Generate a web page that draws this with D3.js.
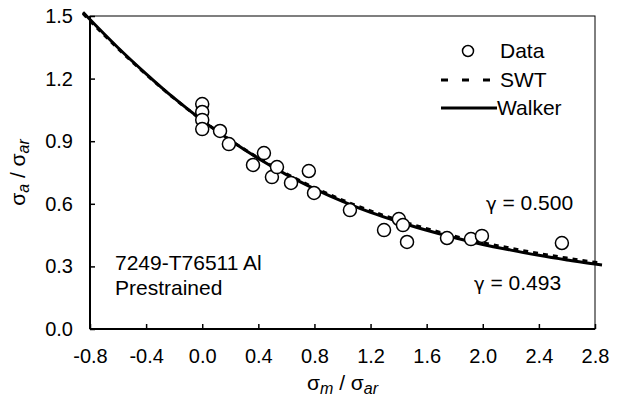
<!DOCTYPE html>
<html>
<head>
<meta charset="utf-8">
<script src="https://cdn.jsdelivr.net/npm/d3@7"></script>
<style>
  body { margin: 0; background: #fff; }
  svg text { font-family: "Liberation Sans", Arial, sans-serif; fill: #000; }
</style>
</head>
<body>
<svg id="chart" width="620" height="404"></svg>
<script>
// measured data (sigma_m / sigma_ar , sigma_a / sigma_ar)
var dataM = [0, 0, 0, 0, 0.127, 0.19, 0.362, 0.44, 0.497, 0.533, 0.633, 0.76, 0.797,
             1.053, 1.296, 1.402, 1.431, 1.46, 1.745, 1.916, 1.994, 2.564];
var dataA = [1.078, 1.040, 1.002, 0.958, 0.949, 0.886, 0.786, 0.843, 0.728, 0.776, 0.70, 0.757, 0.652,
             0.570, 0.474, 0.527, 0.498, 0.417, 0.436, 0.431, 0.446, 0.412];

// model curves
var curveM = [-0.85, -0.8, -0.6, -0.4, -0.2, 0, 0.2, 0.4, 0.6, 0.8, 1.0, 1.2, 1.4, 1.6, 1.8, 2.0, 2.2, 2.4, 2.6, 2.8, 2.85];
var swtA    = [1.512, 1.477, 1.344, 1.220, 1.105, 1.000, 0.905, 0.820, 0.744, 0.677, 0.618, 0.566, 0.521, 0.481, 0.445, 0.414, 0.387, 0.362, 0.340, 0.320, 0.316];
var walkerA = [1.518, 1.483, 1.348, 1.223, 1.106, 1.000, 0.904, 0.817, 0.740, 0.672, 0.612, 0.559, 0.514, 0.473, 0.437, 0.405, 0.378, 0.353, 0.331, 0.311, 0.307];

var xTicks = [-0.8, -0.4, 0.0, 0.4, 0.8, 1.2, 1.6, 2.0, 2.4, 2.8];
var yTicks = [0.0, 0.3, 0.6, 0.9, 1.2, 1.5];

var svg = d3.select("#chart");
var margin = {left: 90, right: 25, top: 16, bottom: 75};
var width = 620 - margin.left - margin.right,
    height = 404 - margin.top - margin.bottom;

var x = d3.scaleLinear().domain([-0.8, 2.8]).range([0, width]);
var y = d3.scaleLinear().domain([0, 1.5]).range([height, 0]);

// plain hyphen for negatives, like the original
var fmt = function(d) { return d3.format(".1f")(d).replace("\u2212", "-"); };

var g = svg.append("g").attr("transform", "translate(" + margin.left + "," + margin.top + ")");

// frame (top / right thin)
g.append("rect")
    .attr("x", 0).attr("y", 0)
    .attr("width", width).attr("height", height)
    .attr("fill", "none").attr("stroke", "#000").attr("stroke-width", 1);

// axes with inward ticks
var xAxis = g.append("g")
    .attr("transform", "translate(0," + height + ")")
    .call(d3.axisBottom(x).tickValues(xTicks).tickSize(-5).tickPadding(20).tickFormat(fmt));
var yAxis = g.append("g")
    .call(d3.axisLeft(y).tickValues(yTicks).tickSize(-5).tickPadding(17).tickFormat(fmt));

[xAxis, yAxis].forEach(function(ax) {
    ax.select(".domain").attr("stroke-width", 2);
    ax.selectAll(".tick line").attr("stroke-width", 1.5);
    ax.selectAll(".tick text").style("font-size", "20px").attr("fill", "#000");
});
xAxis.select(".domain").attr("d", "M0,0H" + width);
yAxis.select(".domain").attr("d", "M0,0V" + height);

// curves
var walkerPts = curveM.map(function(m, i) { return [m, walkerA[i]]; });
var swtPts = curveM.map(function(m, i) { return [m, swtA[i]]; });
var line = d3.line()
    .x(function(d) { return x(d[0]); })
    .y(function(d) { return y(d[1]); })
    .curve(d3.curveMonotoneX);

g.append("path").datum(walkerPts)
    .attr("d", line).attr("fill", "none")
    .attr("stroke", "#000").attr("stroke-width", 3);
g.append("path").datum(swtPts)
    .attr("d", line).attr("fill", "none")
    .attr("stroke", "#000").attr("stroke-width", 3)
    .attr("stroke-dasharray", "5,5");

// data points
g.selectAll("circle.pt")
    .data(dataM.map(function(m, i) { return [m, dataA[i]]; }))
    .enter().append("circle")
    .attr("class", "pt")
    .attr("cx", function(d) { return x(d[0]); })
    .attr("cy", function(d) { return y(d[1]); })
    .attr("r", 6.5)
    .attr("fill", "#fff").attr("stroke", "#000").attr("stroke-width", 1.5);

// legend
var leg = svg.append("g");
leg.append("circle").attr("cx", 468).attr("cy", 51).attr("r", 5.5)
    .attr("fill", "#fff").attr("stroke", "#000").attr("stroke-width", 1.5);
leg.append("line").attr("x1", 441).attr("x2", 490).attr("y1", 80).attr("y2", 80)
    .attr("stroke", "#000").attr("stroke-width", 3).attr("stroke-dasharray", "7,14");
leg.append("line").attr("x1", 441).attr("x2", 497).attr("y1", 108).attr("y2", 108)
    .attr("stroke", "#000").attr("stroke-width", 3);
[["Data", 500, 51], ["SWT", 500, 80], ["Walker", 497, 108]].forEach(function(t) {
    leg.append("text").attr("x", t[1]).attr("y", t[2]).attr("dy", "0.35em")
        .style("font-size", "21px").text(t[0]);
});

// annotations
function note(txt, xx, yy) {
    return svg.append("text").attr("x", xx).attr("y", yy).attr("dy", "0.35em")
        .style("font-size", "21px").text(txt);
}
function gammaNote(val, xx, yy) {
    var t = svg.append("text").attr("x", xx).attr("y", yy).attr("dy", "0.35em").style("font-size", "21px");
    t.append("tspan").style("font-family", "DejaVu Sans").style("font-size", "18px").text("\u03b3");
    t.append("tspan").text(" = " + val);
}
gammaNote("0.500", 486, 203);
gammaNote("0.493", 474, 283);
note("7249-T76511 Al", 115, 263);
note("Prestrained", 115, 288);

// axis titles
var xt = svg.append("text")
    .attr("x", margin.left + width / 2).attr("y", 390)
    .attr("text-anchor", "middle").style("font-size", "21px");
xt.append("tspan").text("\u03c3");
xt.append("tspan").attr("font-style", "italic").attr("baseline-shift", "-25%").style("font-size", "16px").text("m");
xt.append("tspan").text(" / \u03c3");
xt.append("tspan").attr("font-style", "italic").attr("baseline-shift", "-25%").style("font-size", "16px").text("ar");

var yt = svg.append("text")
    .attr("transform", "translate(25," + (margin.top + height / 2) + ") rotate(-90)")
    .attr("text-anchor", "middle").style("font-size", "21px");
yt.append("tspan").text("\u03c3");
yt.append("tspan").attr("font-style", "italic").attr("baseline-shift", "-25%").style("font-size", "16px").text("a");
yt.append("tspan").text(" / \u03c3");
yt.append("tspan").attr("font-style", "italic").attr("baseline-shift", "-25%").style("font-size", "16px").text("ar");
</script>
</body>
</html>
